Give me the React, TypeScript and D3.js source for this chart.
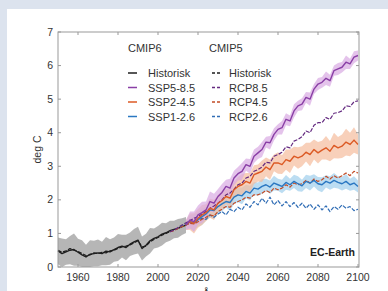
import React, { useRef, useEffect } from 'react';
import * as d3 from 'd3';

// data (2-year steps)
const histYears = d3.range(1950, 2015, 2);
const hist6 = [0.48, 0.40, 0.45, 0.50, 0.52, 0.44, 0.36, 0.30, 0.38, 0.40, 0.42, 0.40, 0.47, 0.45, 0.52, 0.58, 0.62, 0.58, 0.68, 0.75, 0.80, 0.55, 0.65, 0.78, 0.85, 0.90, 0.98, 1.02, 1.08, 1.12, 1.15, 1.20, 1.25];
const hist6Spread = [0.40, 0.45, 0.38, 0.42, 0.48, 0.40, 0.44, 0.36, 0.42, 0.38, 0.40, 0.35, 0.42, 0.38, 0.36, 0.40, 0.34, 0.38, 0.35, 0.38, 0.40, 0.36, 0.34, 0.38, 0.30, 0.32, 0.34, 0.28, 0.30, 0.26, 0.28, 0.25, 0.24];

const hist5Years = d3.range(1950, 2007, 2);
const hist5 = [0.50, 0.44, 0.48, 0.55, 0.50, 0.46, 0.40, 0.34, 0.36, 0.42, 0.40, 0.44, 0.42, 0.48, 0.50, 0.55, 0.60, 0.62, 0.66, 0.72, 0.78, 0.60, 0.62, 0.75, 0.82, 0.88, 0.95, 1.00, 1.05];

// CMIP6 scenarios 2014-2100
const sspYears = d3.range(2014, 2101, 2);
const ssp585 = [1.25, 1.40, 1.35, 1.55, 1.62, 1.70, 1.95, 1.90, 2.10, 2.22, 2.40, 2.35, 2.65, 2.78, 2.85, 3.05, 3.00, 3.30, 3.40, 3.50, 3.72, 3.70, 3.95, 4.10, 4.15, 4.40, 4.35, 4.65, 4.80, 4.85, 5.05, 5.00, 5.30, 5.45, 5.50, 5.62, 5.55, 5.85, 5.90, 5.95, 6.10, 6.05, 6.25, 6.30];
const ssp585Spread = [0.15, 0.25, 0.30, 0.28, 0.32, 0.25, 0.30, 0.28, 0.22, 0.25, 0.20, 0.28, 0.22, 0.20, 0.25, 0.18, 0.22, 0.20, 0.18, 0.22, 0.16, 0.20, 0.18, 0.15, 0.20, 0.18, 0.16, 0.20, 0.15, 0.18, 0.16, 0.20, 0.15, 0.18, 0.16, 0.20, 0.18, 0.15, 0.18, 0.16, 0.20, 0.15, 0.18, 0.15];
const ssp245 = [1.25, 1.35, 1.30, 1.45, 1.55, 1.62, 1.75, 1.70, 1.90, 1.98, 2.10, 2.05, 2.30, 2.40, 2.45, 2.55, 2.50, 2.75, 2.80, 2.85, 2.98, 2.90, 3.10, 3.10, 3.05, 3.20, 3.15, 3.30, 3.25, 3.30, 3.42, 3.35, 3.50, 3.40, 3.48, 3.55, 3.45, 3.62, 3.55, 3.60, 3.72, 3.65, 3.78, 3.65];
const ssp245Spread = [0.15, 0.25, 0.30, 0.28, 0.30, 0.25, 0.28, 0.30, 0.25, 0.28, 0.22, 0.30, 0.25, 0.28, 0.32, 0.25, 0.30, 0.28, 0.25, 0.32, 0.28, 0.30, 0.25, 0.32, 0.28, 0.30, 0.35, 0.28, 0.32, 0.30, 0.28, 0.35, 0.30, 0.32, 0.28, 0.35, 0.30, 0.38, 0.32, 0.35, 0.40, 0.35, 0.38, 0.30];
const ssp126 = [1.25, 1.35, 1.32, 1.42, 1.50, 1.58, 1.70, 1.68, 1.80, 1.88, 1.95, 1.92, 2.08, 2.15, 2.12, 2.25, 2.20, 2.35, 2.32, 2.40, 2.45, 2.38, 2.50, 2.45, 2.40, 2.52, 2.45, 2.55, 2.48, 2.42, 2.55, 2.50, 2.58, 2.48, 2.45, 2.55, 2.50, 2.58, 2.52, 2.48, 2.55, 2.45, 2.50, 2.40];
const ssp126Spread = [0.12, 0.20, 0.25, 0.22, 0.25, 0.20, 0.22, 0.25, 0.20, 0.22, 0.18, 0.25, 0.20, 0.22, 0.25, 0.20, 0.22, 0.18, 0.20, 0.22, 0.18, 0.20, 0.22, 0.18, 0.20, 0.22, 0.18, 0.20, 0.22, 0.18, 0.20, 0.22, 0.18, 0.20, 0.22, 0.18, 0.20, 0.22, 0.18, 0.20, 0.22, 0.18, 0.20, 0.18];

// CMIP5 scenarios 2006-2100
const rcpYears = d3.range(2006, 2101, 2);
const rcp85 = [1.05, 1.10, 1.18, 1.25, 1.32, 1.38, 1.45, 1.50, 1.58, 1.65, 1.75, 1.82, 1.90, 2.00, 2.15, 2.20, 2.32, 2.45, 2.50, 2.65, 2.70, 2.85, 2.90, 2.98, 3.12, 3.10, 3.30, 3.35, 3.42, 3.58, 3.55, 3.75, 3.80, 3.88, 4.05, 4.00, 4.22, 4.30, 4.30, 4.45, 4.40, 4.58, 4.60, 4.65, 4.80, 4.78, 4.92, 4.95];
const rcp45 = [1.05, 1.08, 1.15, 1.20, 1.25, 1.30, 1.28, 1.35, 1.42, 1.48, 1.55, 1.52, 1.65, 1.72, 1.80, 1.78, 1.90, 1.95, 2.00, 2.08, 2.05, 2.15, 2.15, 2.20, 2.28, 2.22, 2.35, 2.30, 2.35, 2.45, 2.38, 2.50, 2.45, 2.48, 2.58, 2.50, 2.62, 2.55, 2.60, 2.70, 2.62, 2.72, 2.65, 2.72, 2.80, 2.72, 2.85, 2.80];
const rcp26 = [1.05, 1.10, 1.15, 1.22, 1.28, 1.32, 1.30, 1.40, 1.45, 1.42, 1.55, 1.48, 1.58, 1.65, 1.55, 1.72, 1.65, 1.78, 1.70, 1.88, 1.78, 1.95, 1.85, 2.05, 1.90, 2.08, 1.85, 1.98, 1.82, 1.95, 1.80, 1.92, 1.78, 1.90, 1.75, 1.88, 1.72, 1.85, 1.70, 1.82, 1.65, 1.80, 1.72, 1.85, 1.75, 1.80, 1.68, 1.72];

const yTicks = [0, 1, 2, 3, 4, 5, 6, 7];
const xTicks = [1960, 1980, 2000, 2020, 2040, 2060, 2080, 2100];

const legend6 = [
  { label: 'Historisk', color: '#1e1e1e' },
  { label: 'SSP5-8.5', color: '#8a3fa6' },
  { label: 'SSP2-4.5', color: '#dc5a25' },
  { label: 'SSP1-2.6', color: '#2b78c2' },
];
const legend5 = [
  { label: 'Historisk', color: '#1e1e1e' },
  { label: 'RCP8.5', color: '#642a80' },
  { label: 'RCP4.5', color: '#c24c26' },
  { label: 'RCP2.6', color: '#306db5' },
];

const W = 388;
const H = 291;
const M = { left: 58, right: 358, top: 32, bottom: 267 };
const FONT = 'Liberation Sans, Arial, sans-serif';

const App = () => {
  const svgRef = useRef<SVGSVGElement>(null);

  useEffect(() => {
    const svg = d3.select(svgRef.current);
    svg.selectAll('*').remove();

    svg.append('rect').attr('width', W).attr('height', H).attr('fill', '#dce3ee');
    svg.append('rect').attr('x', 7).attr('y', 9).attr('width', W - 7).attr('height', H - 9).attr('fill', '#ffffff');

    const x = d3.scaleLinear().domain([1950, 2100]).range([M.left, M.right]);
    const y = d3.scaleLinear().domain([0, 7]).range([M.bottom, M.top]);

    const band = (years: number[], vals: number[], spread: number[], fill: string, op: number) => {
      const area = d3.area<number>()
        .x((d, i) => x(years[i]))
        .y0((d, i) => y(Math.max(0, d - spread[i])))
        .y1((d, i) => y(d + spread[i]));
      svg.append('path').datum(vals).attr('fill', fill).attr('opacity', op).attr('d', area);
    };

    const line = (years: number[], vals: number[], color: string, dash: string | null, w: number) => {
      const gen = d3.line<number>().x((d, i) => x(years[i])).y((d) => y(d));
      const p = svg.append('path').datum(vals)
        .attr('fill', 'none')
        .attr('stroke', color)
        .attr('stroke-width', w)
        .attr('stroke-linejoin', 'round')
        .attr('d', gen);
      if (dash) p.attr('stroke-dasharray', dash);
    };

    // shaded ranges
    band(histYears, hist6, hist6Spread, '#a9a9a9', 0.85);
    band(sspYears, ssp126, ssp126Spread, '#a6d2ee', 0.75);
    band(sspYears, ssp245, ssp245Spread, '#f5bc9c', 0.7);
    band(sspYears, ssp585, ssp585Spread, '#d9a9e2', 0.7);

    // lines
    line(hist5Years, hist5, '#1e1e1e', '4,1.5', 1.2);
    line(histYears, hist6, '#1e1e1e', null, 1.4);
    line(rcpYears, rcp26, legend5[3].color, '4,1.5', 1.2);
    line(rcpYears, rcp45, legend5[2].color, '4,1.5', 1.2);
    line(rcpYears, rcp85, legend5[1].color, '4,1.5', 1.2);
    line(sspYears, ssp126, legend6[3].color, null, 1.4);
    line(sspYears, ssp245, legend6[2].color, null, 1.4);
    line(sspYears, ssp585, legend6[1].color, null, 1.4);

    // frame
    svg.append('rect')
      .attr('x', M.left).attr('y', M.top)
      .attr('width', M.right + 1 - M.left).attr('height', M.bottom - M.top)
      .attr('fill', 'none').attr('stroke', '#999999').attr('stroke-width', 1);

    const axisG = svg.append('g').attr('font-family', FONT).attr('font-size', 10.5).attr('fill', '#333333');

    yTicks.forEach((t) => {
      svg.append('line').attr('x1', M.left).attr('x2', M.left + 3).attr('y1', y(t)).attr('y2', y(t)).attr('stroke', '#999');
      svg.append('line').attr('x1', M.right + 1).attr('x2', M.right - 2).attr('y1', y(t)).attr('y2', y(t)).attr('stroke', '#999');
      axisG.append('text').attr('x', M.left - 5).attr('y', y(t) + 3.5).attr('text-anchor', 'end').text(t);
    });
    xTicks.forEach((t) => {
      svg.append('line').attr('x1', x(t)).attr('x2', x(t)).attr('y1', M.bottom).attr('y2', M.bottom - 3).attr('stroke', '#999');
      svg.append('line').attr('x1', x(t)).attr('x2', x(t)).attr('y1', M.top).attr('y2', M.top + 3).attr('stroke', '#999');
      axisG.append('text').attr('x', x(t)).attr('y', 281).attr('text-anchor', 'middle').text(t);
    });

    axisG.append('text')
      .attr('transform', `translate(41, ${y(3.5)}) rotate(-90)`)
      .attr('text-anchor', 'middle')
      .text('deg C');
    // x-axis title sits mostly below the visible area, as in the source image
    axisG.append('text').attr('x', 208).attr('y', 297).attr('text-anchor', 'middle').text('År');

    // legend
    const lg = svg.append('g').attr('font-family', FONT).attr('font-size', 11).attr('fill', '#333333');
    lg.append('text').attr('x', 128).attr('y', 52).text('CMIP6');
    lg.append('text').attr('x', 209).attr('y', 52).text('CMIP5');
    legend6.forEach((d, i) => {
      const ry = 73 + i * 14.5;
      lg.append('line').attr('x1', 128).attr('x2', 137).attr('y1', ry).attr('y2', ry).attr('stroke', d.color).attr('stroke-width', 1.5);
      lg.append('text').attr('x', 148).attr('y', ry + 4).text(d.label);
    });
    legend5.forEach((d, i) => {
      const ry = 73 + i * 14.5;
      lg.append('line').attr('x1', 212).attr('x2', 222).attr('y1', ry).attr('y2', ry)
        .attr('stroke', d.color).attr('stroke-width', 1.5).attr('stroke-dasharray', '3,2');
      lg.append('text').attr('x', 229).attr('y', ry + 4).text(d.label);
    });

    svg.append('text')
      .attr('x', 355).attr('y', 256).attr('text-anchor', 'end')
      .attr('font-family', FONT).attr('font-size', 10.5).attr('font-weight', 'bold').attr('fill', '#222')
      .text('EC-Earth');
  }, []);

  return (
    <div style={{ position: 'fixed', left: 0, top: 0 }}>
      <svg ref={svgRef} width={W} height={H} style={{ display: 'block' }}></svg>
    </div>
  );
};

export default App;
